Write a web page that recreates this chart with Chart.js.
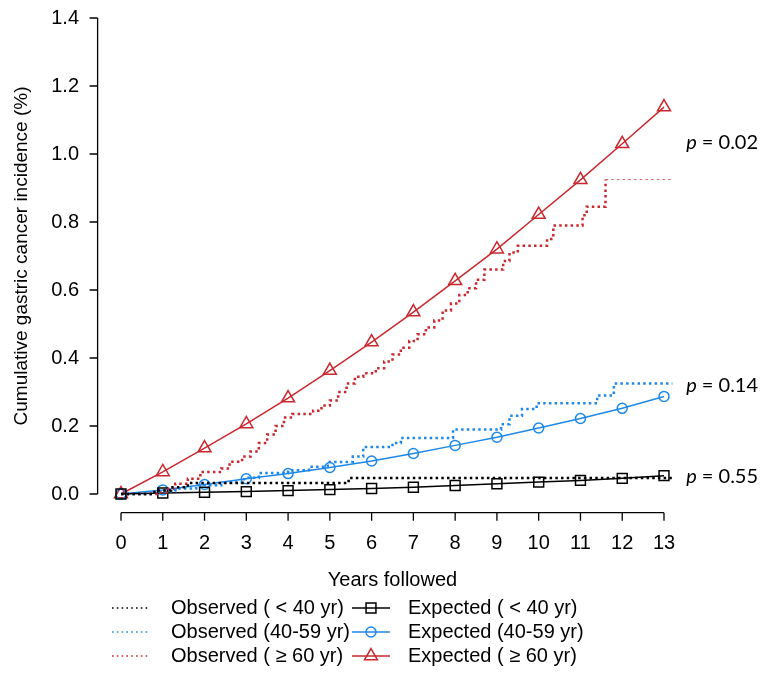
<!DOCTYPE html>
<html>
<head>
<meta charset="utf-8">
<script src="https://cdn.jsdelivr.net/npm/chart.js@4.4.1/dist/chart.umd.min.js"></script>
<style>
  html, body { margin: 0; padding: 0; background: #fff; }
</style>
</head>
<body>
<canvas id="chart" width="760" height="673"></canvas>
<script>
const FONT = 'Liberation Sans, Arial, sans-serif'
const RED = '#c8282e'
const BLUE = '#1e88e8'
const BLACK = '#000000'

// tick labels
const xTicks = [0, 1, 2, 3, 4, 5, 6, 7, 8, 9, 10, 11, 12, 13]
const yTicks = [0, 0.2, 0.4, 0.6, 0.8, 1.0, 1.2, 1.4]

// expected curves, one value per year followed
const years = [0, 1, 2, 3, 4, 5, 6, 7, 8, 9, 10, 11, 12, 13]
const expLow = [0, 0.003, 0.005, 0.007, 0.010, 0.013, 0.016, 0.020, 0.025, 0.030, 0.035, 0.040, 0.046, 0.054]
const expMid = [0, 0.012, 0.028, 0.045, 0.060, 0.078, 0.097, 0.119, 0.143, 0.167, 0.194, 0.222, 0.252, 0.287]
const expHigh = [0, 0.065, 0.135, 0.206, 0.282, 0.363, 0.447, 0.535, 0.627, 0.720, 0.822, 0.924, 1.030, 1.138]

// observed curves (step functions): time of step, value after step
const obsLowT = [0, 0.8, 1.2, 1.6, 5.45, 13.2]
const obsLowV = [0, 0.010, 0.020, 0.032, 0.047, 0.047]

const obsMidT = [0, 0.8, 1.3, 1.8, 2.4, 2.95, 3.3, 4.0, 4.5, 4.95, 5.55, 5.8, 6.5, 6.7, 7.95, 9.1, 9.3, 9.6, 9.95, 11.4, 11.8, 13.2]
const obsMidV = [0, 0.008, 0.016, 0.026, 0.034, 0.048, 0.062, 0.070, 0.080, 0.094, 0.110, 0.138, 0.150, 0.165, 0.190, 0.205, 0.230, 0.250, 0.267, 0.290, 0.325, 0.325]

const obsHighT = [0, 0.9, 1.1, 1.3, 1.6, 1.9, 2.4, 2.6, 2.9, 3.1, 3.3, 3.5, 3.7, 3.9, 4.1, 4.6, 4.8, 5.0, 5.2, 5.4, 5.6, 5.8, 6.1, 6.3, 6.5, 6.7, 6.9, 7.1, 7.3, 7.5, 7.7, 7.9, 8.1, 8.3, 8.5, 8.7, 9.15, 9.3, 9.5, 10.2, 10.35, 11.05, 11.15, 11.6, 13.2]
const obsHighV = [0, 0.005, 0.015, 0.030, 0.045, 0.065, 0.075, 0.095, 0.110, 0.125, 0.150, 0.175, 0.200, 0.225, 0.235, 0.245, 0.260, 0.275, 0.300, 0.325, 0.345, 0.355, 0.370, 0.390, 0.410, 0.430, 0.450, 0.470, 0.490, 0.510, 0.540, 0.560, 0.585, 0.605, 0.630, 0.660, 0.685, 0.710, 0.730, 0.750, 0.790, 0.820, 0.845, 0.925, 0.925]

// p-values written at the right end of each group
const pTexts = ['0.02', '0.14', '0.55']
const pX = [13.53, 13.53, 13.53]
const pY = [1.035, 0.32, 0.05]

const legendText = [
    ['Observed ( < 40 yr)', 'Expected ( < 40 yr)'],
    ['Observed (40-59 yr)', 'Expected (40-59 yr)'],
    ['Observed ( \u2265 60 yr)', 'Expected ( \u2265 60 yr)']
]

function pts(xs, ys) {
    return xs.map((x, i) => ({ x: x, y: ys[i] }))
}

function observed(label, xs, ys, color) {
    return {
        label: label,
        data: pts(xs, ys),
        borderColor: color,
        borderWidth: 2.5,
        borderDash: [2.5, 3.2],
        stepped: true,
        pointRadius: 0,
        fill: false,
        clip: false
    }
}

function expected(label, ys, color, style, radius) {
    return {
        label: label,
        data: pts(years, ys),
        borderColor: color,
        borderWidth: 1.5,
        pointStyle: style,
        pointRadius: radius,
        pointBorderWidth: 1.5,
        pointBorderColor: color,
        pointBackgroundColor: 'rgba(0,0,0,0)',
        fill: false,
        clip: false
    }
}

const obsHighSet = observed(legendText[2][0], obsHighT, obsHighV, RED)
obsHighSet.segment = {
    borderWidth: c => c.p1DataIndex === obsHighT.length - 1 ? 1.2 : 2.5,
    borderColor: c => c.p1DataIndex === obsHighT.length - 1 ? 'rgba(200,40,46,0.7)' : RED
}

const datasets = [
    observed(legendText[0][0], obsLowT, obsLowV, BLACK),
    observed(legendText[1][0], obsMidT, obsMidV, BLUE),
    obsHighSet,
    expected(legendText[0][1], expLow, BLACK, 'rect', 7),
    expected(legendText[1][1], expMid, BLUE, 'circle', 5),
    expected(legendText[2][1], expHigh, RED, 'triangle', 7.5)
]

// R style axes, drawn a little away from the data region
const rAxes = {
    id: 'rAxes',
    afterDraw(chart) {
        const { ctx, scales: { x, y } } = chart
        const ax = x.getPixelForValue(-0.56)
        const ay = y.getPixelForValue(-0.055)
        ctx.save()
        ctx.strokeStyle = '#000'
        ctx.lineWidth = 1.3
        ctx.beginPath()
        ctx.moveTo(ax, y.getPixelForValue(yTicks[0]))
        ctx.lineTo(ax, y.getPixelForValue(yTicks[yTicks.length - 1]))
        for (const v of yTicks) {
            ctx.moveTo(ax, y.getPixelForValue(v))
            ctx.lineTo(ax - 8, y.getPixelForValue(v))
        }
        ctx.moveTo(x.getPixelForValue(xTicks[0]), ay)
        ctx.lineTo(x.getPixelForValue(xTicks[xTicks.length - 1]), ay)
        for (const v of xTicks) {
            ctx.moveTo(x.getPixelForValue(v), ay)
            ctx.lineTo(x.getPixelForValue(v), ay + 8)
        }
        ctx.stroke()

        // p-values
        ctx.fillStyle = '#000'
        ctx.textBaseline = 'middle'
        ctx.textAlign = 'left'
        for (let i = 0; i < pTexts.length; i++) {
            const px = x.getPixelForValue(pX[i])
            const py = y.getPixelForValue(pY[i])
            ctx.font = 'italic 20px Lato, "Open Sans", sans-serif'
            ctx.fillText('p', px, py)
            const w = ctx.measureText('p').width
            ctx.font = '20px Lato, "Open Sans", sans-serif'
            ctx.fillText(' = ' + pTexts[i], px + w, py)
        }
        ctx.restore()
    }
}

// two column legend under the plot
const rLegend = {
    id: 'rLegend',
    afterDraw(chart) {
        const ctx = chart.ctx
        const rows = [608, 632, 656]
        const cols = [{ x0: 112, x1: 150, tx: 171 }, { x0: 352, x1: 390, tx: 408 }]
        ctx.save()
        ctx.font = '20px ' + FONT
        ctx.textBaseline = 'middle'
        ctx.textAlign = 'left'
        for (let r = 0; r < 3; r++) {
            for (let c = 0; c < 2; c++) {
                const ds = chart.data.datasets[c * 3 + r]
                const col = cols[c]
                const yy = rows[r]
                ctx.strokeStyle = ds.borderColor
                if (c === 0) {
                    ctx.lineWidth = 1.6
                    ctx.setLineDash([1.6, 3.2])
                } else {
                    ctx.lineWidth = ds.borderWidth
                    ctx.setLineDash([])
                }
                ctx.beginPath()
                ctx.moveTo(col.x0, yy)
                ctx.lineTo(col.x1, yy)
                ctx.stroke()
                ctx.setLineDash([])
                if (c === 1) {
                    ctx.lineWidth = ds.pointBorderWidth
                    ctx.fillStyle = 'rgba(0,0,0,0)'
                    Chart.helpers.drawPoint(ctx, {
                        pointStyle: ds.pointStyle,
                        radius: ds.pointRadius,
                        rotation: 0,
                        borderWidth: ds.pointBorderWidth
                    }, (col.x0 + col.x1) / 2, yy)
                }
                ctx.fillStyle = '#000'
                ctx.fillText(ds.label, col.tx, yy)
            }
        }
        ctx.restore()
    }
}

new Chart(document.getElementById('chart'), {
    type: 'line',
    data: { datasets: datasets },
    options: {
        responsive: false,
        animation: false,
        layout: { padding: { top: 18, right: 96, left: 0, bottom: 0 } },
        plugins: { legend: { display: false }, tooltip: { enabled: false } },
        scales: {
            x: {
                type: 'linear',
                min: 0,
                max: 13,
                afterBuildTicks: s => { s.ticks = xTicks.map(v => ({ value: v })) },
                afterFit: s => { s.height = 179; s.paddingLeft = 0; s.paddingRight = 0 },
                grid: { display: false, drawTicks: false },
                border: { display: false },
                ticks: { padding: 37, color: '#000', maxRotation: 0, autoSkip: false, font: { family: FONT, size: 20 } },
                title: { display: true, text: 'Years followed', color: '#000', font: { family: FONT, size: 20 }, padding: { top: 0, bottom: 81 } }
            },
            y: {
                type: 'linear',
                min: 0,
                max: 1.4,
                afterBuildTicks: s => { s.ticks = yTicks.map(v => ({ value: v })) },
                afterFit: s => { s.width = 121; s.paddingTop = 0; s.paddingBottom = 0 },
                grid: { display: false, drawTicks: false },
                border: { display: false },
                ticks: { padding: 42, color: '#000', font: { family: FONT, size: 20 }, callback: v => v.toFixed(1) },
                title: { display: true, text: 'Cumulative gastric cancer incidence (%)', color: '#000', font: { family: FONT, size: 19 }, padding: { top: 10, bottom: 0 } }
            }
        }
    },
    plugins: [rAxes, rLegend]
})
</script>
</body>
</html>
